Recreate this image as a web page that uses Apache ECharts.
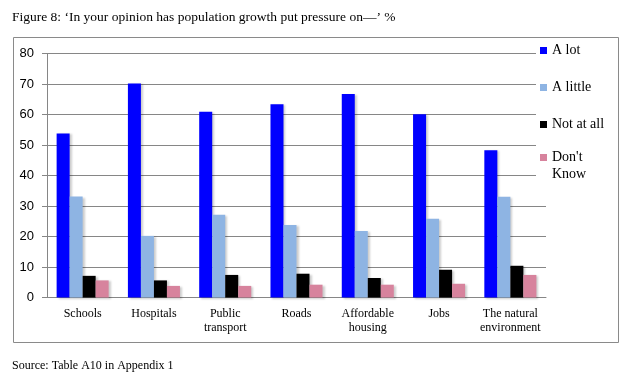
<!DOCTYPE html>
<html><head><meta charset="utf-8">
<script src="https://cdn.jsdelivr.net/npm/echarts@6/dist/echarts.min.js"></script>
<style>html,body{margin:0;padding:0;background:#fff}#c{width:634px;height:382px}</style>
</head><body><div id="c"></div>
<script>
const categories = ['Schools', 'Hospitals', 'Public\ntransport', 'Roads', 'Affordable\nhousing', 'Jobs', 'The natural\nenvironment'];
const seriesNames = ['A lot', 'A little', 'Not at all', "Don't Know"];
const aLot = [53.8, 70.2, 60.9, 63.4, 66.7, 60.1, 48.3];
const aLittle = [33.1, 20.2, 27.1, 23.8, 21.8, 25.8, 33.0];
const notAtAll = [7.1, 5.6, 7.4, 7.8, 6.4, 9.1, 10.4];
const dontKnow = [5.6, 3.8, 3.8, 4.2, 4.2, 4.5, 7.4];
const yTicks = [0, 10, 20, 30, 40, 50, 60, 70, 80];
const colors = ['#0000FF', '#8EB4E3', '#000000', '#D7839D'];

const chart = echarts.init(document.getElementById('c'), null, {renderer: 'canvas'});
const values = [aLot, aLittle, notAtAll, dontKnow];
const serif = '"Liberation Serif", "Times New Roman", serif';
const legendText = {fontFamily: serif, fontSize: 14, color: '#000', lineHeight: 17};
chart.setOption({
  animation: false,
  backgroundColor: '#fff',
  title: [
    {text: 'Figure 8: \u2018In your opinion has population growth put pressure on\u2014\u2019 %', left: 7, top: 5,
     textStyle: {fontFamily: serif, fontSize: 13.5, fontWeight: 'normal', color: '#000'}},
    {text: 'Source: Table A10 in Appendix 1', left: 7, top: 355,
     textStyle: {fontFamily: serif, fontSize: 12, fontWeight: 'normal', color: '#000'}}
  ],
  graphic: [{type: 'rect', shape: {x: 13.5, y: 37.5, width: 605, height: 305}, style: {fill: null, stroke: '#8a8a8a', lineWidth: 1}, z: 10}],
  grid: {left: 47, right: 88, top: 53.5, bottom: 84.5},
  legend: [{
    orient: 'vertical', left: 536, top: 38, itemWidth: 7, itemHeight: 7, itemGap: 20,
    backgroundColor: '#fff', padding: [4, 2, 4, 4],
    data: seriesNames.slice(0, 3).map(n => ({name: n, icon: 'rect'})),
    textStyle: legendText
  }, {
    orient: 'vertical', left: 536, top: 132, itemWidth: 7, itemHeight: 7,
    backgroundColor: '#fff', padding: [0, 2, 0, 4],
    data: [{name: seriesNames[3], icon: 'rect'}],
    formatter: n => ' \n' + n.replace(' ', '\n'),
    textStyle: legendText
  }],
  xAxis: {
    type: 'category', data: categories,
    axisLine: {lineStyle: {color: '#868686'}},
    axisTick: {length: 5, lineStyle: {color: '#868686'}},
    axisLabel: {fontFamily: serif, fontSize: 12, color: '#000', lineHeight: 14, margin: 9, interval: 0}
  },
  yAxis: {
    type: 'value', min: yTicks[0], max: yTicks[yTicks.length - 1], interval: 10,
    axisLine: {show: true, lineStyle: {color: '#868686'}},
    axisTick: {show: true, length: 5, lineStyle: {color: '#868686'}},
    splitLine: {lineStyle: {color: '#868686'}},
    axisLabel: {fontFamily: '"Liberation Sans", Arial, sans-serif', fontSize: 13, color: '#000', margin: 13}
  },
  series: seriesNames.map((n, i) => ({
    name: n, type: 'bar', data: values[i], barGap: '0%', barCategoryGap: '27%',
    itemStyle: {color: colors[i], shadowColor: 'rgba(0,0,0,0.2)', shadowBlur: 2, shadowOffsetX: 2, shadowOffsetY: 1}
  }))
});
</script></body></html>
